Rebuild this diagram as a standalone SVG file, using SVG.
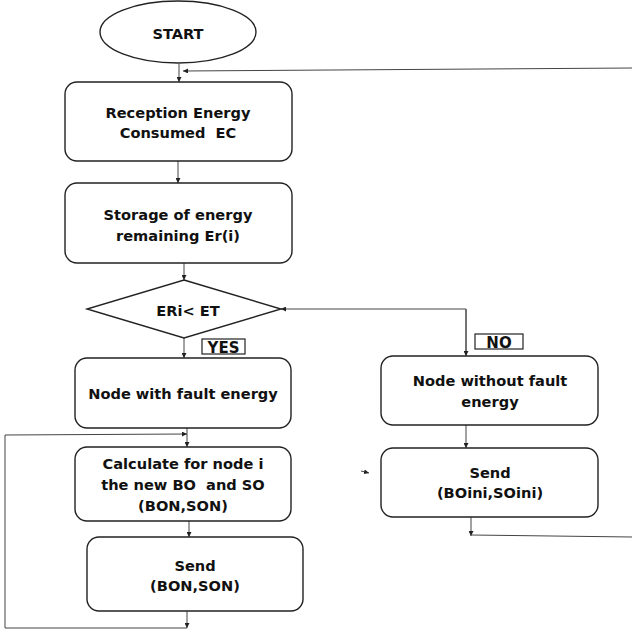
<svg xmlns="http://www.w3.org/2000/svg" width="632" height="634" viewBox="0 0 632 634">
<style>
.box{fill:#fff;stroke:#222;stroke-width:1.4}
.lbl{fill:#fff;stroke:#222;stroke-width:1.2}
.t{font-family:"DejaVu Sans",sans-serif;font-weight:bold;font-size:14.6px;fill:#111;text-anchor:middle}
.s{font-family:"DejaVu Sans",sans-serif;font-weight:bold;font-size:15px;fill:#111;text-anchor:middle}
.c{fill:none;stroke:#444;stroke-width:1}
</style>
<defs>
<marker id="a" viewBox="0 0 10 10" refX="10" refY="5" markerWidth="5" markerHeight="5" orient="auto" markerUnits="userSpaceOnUse">
<path d="M0,0 L10,5 L0,10 z" fill="#222"/>
</marker>
</defs>
<rect width="632" height="634" fill="#fff"/>
<g id="connectors">
<path class="c" d="M179,64 V82" marker-end="url(#a)"/>
<path class="c" d="M632,68 L183,71" marker-end="url(#a)"/>
<path class="c" d="M178,161 V183" marker-end="url(#a)"/>
<path class="c" d="M184,263 V280" marker-end="url(#a)"/>
<path class="c" d="M184,338 V358" marker-end="url(#a)"/>
<path class="c" d="M466,355 V309 H281" marker-end="url(#a)"/>
<path class="c" d="M466,309 V356" marker-end="url(#a)"/>
<path class="c" d="M466,425 V448" marker-end="url(#a)"/>
<path class="c" d="M187,428 V447" marker-end="url(#a)"/>
<path class="c" d="M187,611 V628" marker-end="url(#a)"/>
<path class="c" d="M187,628 H5 V435 L187,434" marker-end="url(#a)"/>
<path class="c" d="M189,521 V537" marker-end="url(#a)"/>
<path class="c" d="M471,517 V536" marker-end="url(#a)"/>
<path class="c" d="M471,535 L632,537"/>
<path class="c" d="M361,471 L369,473" marker-end="url(#a)"/>
</g>
<g id="start">
<ellipse class="box" cx="178" cy="32" rx="78" ry="31"/>
<text class="t" x="178" y="39" font-size="15">START</text>
</g>
<g id="reception">
<rect class="box" x="65" y="82" width="227" height="79" rx="12"/>
<text class="t" x="178" y="118">Reception Energy</text>
<text class="t" x="178" y="138" xml:space="preserve">Consumed  EC</text>
</g>
<g id="storage">
<rect class="box" x="65" y="183" width="227" height="80" rx="12"/>
<text class="t" x="178" y="220">Storage of energy</text>
<text class="t" x="178" y="241">remaining Er(i)</text>
</g>
<g id="decision">
<polygon class="box" points="184,280 281,309 184,338 87,309"/>
<text class="t" x="188" y="316">ERi&lt; ET</text>
</g>
<g id="yes">
<rect class="lbl" x="202" y="339" width="43" height="15"/>
<text class="s" x="223.5" y="353">YES</text>
</g>
<g id="no">
<rect class="lbl" x="475" y="334" width="48" height="15"/>
<text class="s" x="499" y="348">NO</text>
</g>
<g id="fault">
<rect class="box" x="75" y="358" width="216" height="70" rx="12"/>
<text class="t" x="183" y="399">Node with fault energy</text>
</g>
<g id="nofault">
<rect class="box" x="381" y="356" width="217" height="69" rx="12"/>
<text class="t" x="490" y="386">Node without fault</text>
<text class="t" x="490" y="407">energy</text>
</g>
<g id="calculate">
<rect class="box" x="75" y="447" width="216" height="74" rx="12"/>
<text class="t" x="183" y="469">Calculate for node i</text>
<text class="t" x="183" y="490" xml:space="preserve">the new BO  and SO</text>
<text class="t" x="183" y="511">(BON,SON)</text>
</g>
<g id="sendini">
<rect class="box" x="381" y="448" width="217" height="69" rx="12"/>
<text class="t" x="490" y="478">Send</text>
<text class="t" x="490" y="498">(BOini,SOini)</text>
</g>
<g id="sendbon">
<rect class="box" x="87" y="537" width="216" height="74" rx="12"/>
<text class="t" x="195" y="571">Send</text>
<text class="t" x="195" y="591">(BON,SON)</text>
</g>
</svg>
